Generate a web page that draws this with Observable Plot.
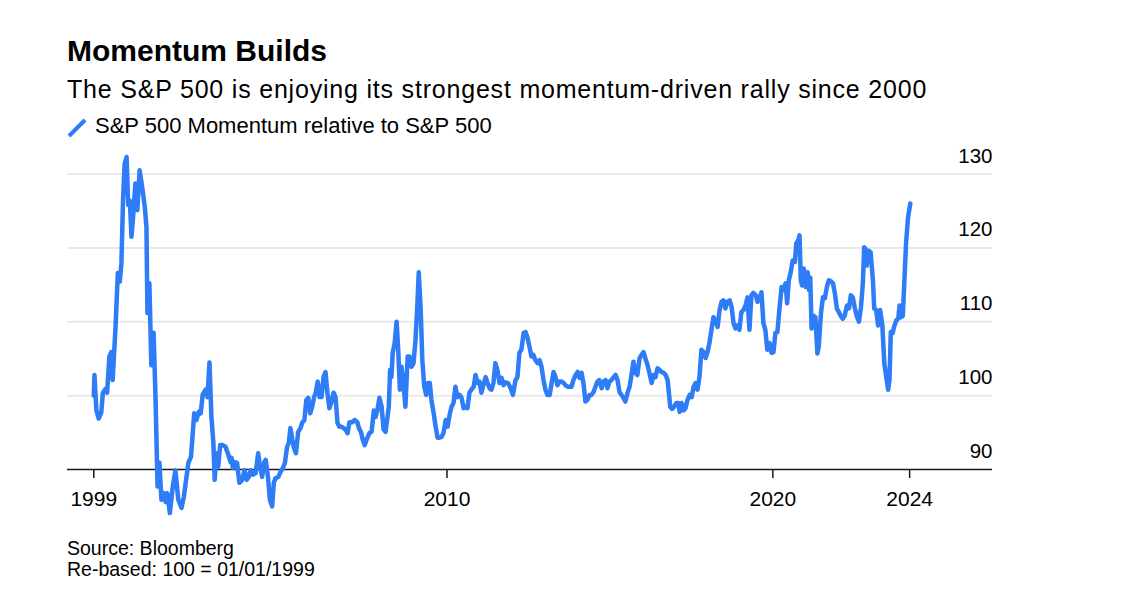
<!DOCTYPE html>
<html>
<head>
<meta charset="utf-8">
<script src="https://cdn.jsdelivr.net/npm/d3@7"></script>
<script src="https://cdn.jsdelivr.net/npm/@observablehq/plot@0.6"></script>
<style>
  html, body { margin: 0; padding: 0; background: #fff; }
  body { width: 1148px; height: 608px; position: relative; overflow: hidden;
         font-family: "Liberation Sans", Arial, Helvetica, sans-serif; color: #000; }
  .t { position: absolute; left: 67px; white-space: nowrap; }
  #title { top: 36px; font-size: 30px; line-height: 30px; font-weight: bold; }
  #subtitle { top: 77px; font-size: 25px; line-height: 25px; letter-spacing: 0.8px; }
  #legend { top: 115px; font-size: 22px; line-height: 22px; }
  #legend svg { position: absolute; left: 0; top: 2px; }
  #legend span { margin-left: 28px; }
  #chart { position: absolute; left: 0; top: 140px; }
  #footer { top: 538px; font-size: 19.5px; line-height: 20.5px; }
</style>
</head>
<body>
<div class="t" id="title">Momentum Builds</div>
<div class="t" id="subtitle">The S&amp;P 500 is enjoying its strongest momentum-driven rally since 2000</div>
<div class="t" id="legend"><svg width="22" height="22"><line x1="2" y1="19" x2="18" y2="3" stroke="#2e7cf6" stroke-width="4" stroke-linecap="butt"/></svg><span>S&amp;P 500 Momentum relative to S&amp;P 500</span></div>
<div id="chart"></div>
<div class="t" id="footer">Source: Bloomberg<br>Re-based: 100 = 01/01/1999</div>
<script>
// Decimal years of each reading
const years = [
1999.00,1999.02,1999.08,1999.15,1999.23,1999.28,1999.36,1999.41,1999.48,1999.54,1999.58,1999.67,1999.74,1999.80,1999.85,1999.90,1999.95,
2000.01,2000.06,2000.11,2000.16,2000.21,2000.28,2000.34,2000.41,2000.49,2000.57,2000.62,2000.65,2000.71,2000.77,2000.84,2000.90,2000.96,
2001.02,2001.08,2001.15,2001.21,2001.26,2001.34,2001.43,2001.51,2001.60,2001.70,2001.77,2001.84,2001.91,2001.99,
2002.03,2002.09,2002.16,2002.23,2002.29,2002.35,2002.44,2002.50,2002.56,2002.62,2002.68,2002.72,2002.78,2002.83,2002.89,2002.97,
2003.05,2003.14,2003.21,2003.24,2003.28,2003.34,2003.41,2003.48,2003.57,2003.64,2003.71,2003.77,2003.83,2003.89,2003.98,
2004.06,2004.10,2004.18,2004.24,2004.29,2004.36,2004.42,2004.49,2004.54,2004.59,2004.68,2004.75,2004.82,2004.88,2004.95,
2005.00,2005.05,2005.11,2005.16,2005.22,2005.29,2005.36,2005.41,2005.48,2005.54,2005.60,2005.66,2005.72,2005.78,2005.83,2005.89,2005.95,
2006.01,2006.07,2006.13,2006.19,2006.25,2006.32,2006.38,2006.44,2006.50,2006.56,2006.62,2006.69,2006.75,2006.81,2006.87,2006.95,
2007.03,2007.11,2007.16,2007.22,2007.28,2007.34,2007.41,2007.49,2007.55,2007.62,2007.67,2007.73,2007.79,2007.86,2007.92,2007.98,
2008.04,2008.08,2008.12,2008.16,2008.20,2008.26,2008.32,2008.37,2008.42,2008.47,2008.53,2008.59,2008.66,2008.72,2008.78,2008.84,2008.90,2008.95,
2009.00,2009.06,2009.11,2009.17,2009.23,2009.29,2009.34,2009.39,2009.46,2009.52,2009.58,2009.64,2009.70,2009.76,2009.83,2009.89,2009.95,
2010.01,2010.07,2010.13,2010.19,2010.26,2010.32,2010.38,2010.44,2010.50,2010.56,2010.62,2010.69,2010.75,2010.81,2010.87,2010.93,2010.99,
2011.06,2011.12,2011.18,2011.24,2011.30,2011.36,2011.42,2011.49,2011.55,2011.61,2011.67,2011.75,2011.83,2011.90,2011.98,
2012.04,2012.10,2012.16,2012.23,2012.29,2012.35,2012.41,2012.47,2012.53,2012.59,2012.66,2012.72,2012.78,2012.84,2012.90,2012.96,
2013.03,2013.09,2013.15,2013.21,2013.27,2013.33,2013.40,2013.46,2013.52,2013.58,2013.64,2013.70,2013.76,2013.83,2013.89,2013.95,
2014.01,2014.07,2014.13,2014.19,2014.26,2014.32,2014.38,2014.44,2014.50,2014.56,2014.63,2014.69,2014.75,2014.81,2014.87,2014.93,
2015.00,2015.06,2015.12,2015.18,2015.24,2015.30,2015.36,2015.43,2015.49,2015.55,2015.61,2015.67,2015.73,2015.80,2015.86,2015.92,2015.98,
2016.04,2016.10,2016.17,2016.23,2016.29,2016.35,2016.41,2016.47,2016.53,2016.60,2016.66,2016.70,2016.74,2016.80,2016.86,2016.93,2016.99,
2017.03,2017.09,2017.15,2017.21,2017.27,2017.34,2017.40,2017.46,2017.52,2017.58,2017.64,2017.70,2017.77,2017.83,2017.89,2017.95,
2018.01,2018.07,2018.13,2018.20,2018.26,2018.32,2018.38,2018.44,2018.50,2018.57,2018.63,2018.69,2018.75,2018.81,2018.87,2018.93,
2019.00,2019.06,2019.12,2019.18,2019.24,2019.30,2019.37,2019.43,2019.49,2019.55,2019.61,2019.67,2019.73,2019.80,2019.86,2019.92,2019.98,
2020.04,2020.10,2020.17,2020.23,2020.29,2020.34,2020.39,2020.45,2020.51,2020.58,2020.62,2020.68,2020.72,2020.76,2020.80,2020.85,2020.91,2020.97,
2021.01,2021.05,2021.09,2021.15,2021.21,2021.27,2021.31,2021.38,2021.44,2021.50,2021.56,2021.62,2021.68,2021.75,2021.81,2021.87,2021.93,2021.99,
2022.05,2022.11,2022.18,2022.24,2022.30,2022.36,2022.42,2022.48,2022.55,2022.61,2022.67,2022.71,2022.75,2022.79,2022.85,2022.91,2022.98,
2023.02,2023.08,2023.14,2023.20,2023.27,2023.33,2023.39,2023.45,2023.49,2023.53,2023.59,2023.63,2023.70,2023.76,2023.80,2023.84,2023.90,2023.94,
2024.00,2024.06,2024.13
];
// S&P 500 Momentum relative to S&P 500 (100 = 01/01/1999)
const momentum = [
100.0,102.8,98.0,96.9,97.7,100.4,100.9,100.4,105.3,105.9,102.1,109.3,116.6,115.4,117.9,126.4,131.4,
132.3,125.8,126.4,121.5,124.2,128.7,125.1,130.5,128.2,125.5,122.8,111.2,115.2,104.1,108.5,99.4,87.7,
90.9,85.9,86.8,85.6,86.8,84.1,87.7,89.9,85.9,84.8,86.3,88.6,90.9,91.7,
94.0,97.6,96.7,97.8,97.6,100.1,100.8,99.8,104.5,97.1,93.6,88.6,92.2,90.4,93.3,93.3,
93.1,92.0,91.0,91.6,90.2,91.0,90.9,88.2,88.6,89.9,88.6,89.0,89.9,89.3,89.5,
92.2,90.9,89.0,90.9,91.3,89.0,85.9,85.0,88.2,88.8,89.0,89.7,90.2,90.9,93.1,
93.6,95.6,94.0,92.9,92.2,95.1,95.6,96.3,96.7,99.4,99.7,97.6,98.5,99.8,100.4,101.9,99.8,
99.8,102.5,103.2,100.4,98.3,99.2,100.4,99.8,96.3,95.8,95.8,95.6,95.4,94.9,96.4,96.4,
96.7,96.4,95.6,95.1,94.0,93.3,94.2,95.0,95.1,98.0,97.1,98.0,99.7,98.5,95.4,95.1,
97.1,98.5,103.5,102.5,105.8,107.1,110.0,106.2,100.8,103.9,101.7,98.5,105.3,105.3,103.9,104.4,107.5,111.6,
116.7,111.6,104.8,101.2,100.1,101.7,101.7,99.4,97.6,95.8,94.3,94.3,94.4,94.9,96.7,95.8,97.4,
98.5,99.0,101.2,99.8,100.1,99.7,98.3,98.5,98.3,100.4,100.8,101.2,102.8,101.7,101.9,100.4,101.4,
102.5,101.7,101.0,100.8,101.7,104.4,103.5,101.7,102.4,101.4,101.8,101.7,101.0,100.1,102.1,
102.5,105.8,106.2,108.5,108.6,107.8,106.6,105.3,105.5,104.8,104.4,104.8,103.9,102.1,100.8,100.1,
100.1,101.7,103.2,102.5,101.4,101.9,101.9,101.7,101.4,101.2,101.2,101.2,102.1,102.8,103.2,102.4,
103.1,101.7,99.2,99.4,100.1,100.1,100.5,101.2,101.9,102.1,101.0,101.9,102.1,101.0,101.9,102.1,
102.5,102.8,102.1,100.5,100.1,99.7,99.2,100.4,101.2,102.8,104.6,103.1,102.8,105.1,105.5,105.9,105.0,
104.2,103.1,101.7,102.8,102.5,103.7,103.5,103.2,103.1,102.8,102.1,100.4,98.5,98.2,98.5,99.0,99.0,
97.8,99.0,98.0,98.3,99.4,100.1,99.8,101.2,101.7,100.8,102.5,106.2,105.9,105.1,105.9,107.2,
108.9,110.6,110.2,109.3,111.6,112.7,112.9,111.8,112.7,112.9,112.0,109.8,109.1,109.5,108.9,111.3,
111.6,112.2,113.3,108.9,113.6,113.9,113.6,112.7,113.2,114.0,109.8,108.9,106.2,107.1,105.8,105.9,108.5,
108.6,111.6,114.7,114.3,115.2,112.5,115.6,116.7,118.3,118.1,120.6,121.0,121.7,115.6,114.9,117.2,114.7,116.7,
114.3,116.0,109.1,110.8,110.6,105.7,106.6,111.2,113.3,113.2,114.7,115.6,115.5,115.2,113.8,111.8,111.3,110.8,
110.4,110.8,112.2,111.8,113.6,113.3,111.9,110.8,110.0,111.9,115.2,120.1,119.9,117.6,119.6,119.4,115.6,
111.8,111.6,109.5,111.6,109.5,104.4,102.5,100.8,102.1,108.6,108.5,109.3,110.2,110.4,112.2,110.6,110.8,114.7,
120.6,124.1,126.0
];
const yTicks = [90, 100, 110, 120, 130];
const gridTicks = [100, 110, 120, 130];
const xTickYears = [1999.0, 2009.87, 2019.9, 2024.11];
const xTickLabels = ["1999", "2010", "2020", "2024"];
const xDomainYears = [1998.19, 2026.66];

const toDate = y => {
  const yr = Math.floor(y);
  const start = Date.UTC(yr, 0, 1), end = Date.UTC(yr + 1, 0, 1);
  return new Date(start + (y - yr) * (end - start));
};
const data = years.map((y, i) => ({date: toDate(y), value: momentum[i]}));
const xTicks = xTickYears.map(toDate);
const labelFor = d => {
  const i = xTicks.findIndex(t => Math.abs(t - d) < 864e5);
  return i >= 0 ? xTickLabels[i] : "";
};

const chart = Plot.plot({
  width: 1148,
  height: 389,
  marginLeft: 67,
  marginRight: 156,
  marginTop: 33.5,
  marginBottom: 60,
  style: {fontFamily: '"Liberation Sans", Arial, Helvetica, sans-serif', fontSize: "20px", color: "#000", background: "transparent", overflow: "visible"},
  x: {type: "utc", domain: xDomainYears.map(toDate)},
  y: {domain: [90, 130]},
  marks: [
    Plot.gridY(gridTicks, {stroke: "#e9e9e9", strokeOpacity: 1, strokeWidth: 2}),
    Plot.axisY(yTicks, {anchor: "right", tickSize: 0, tickPadding: 0, textAnchor: "end", dy: -18, label: null, fontSize: 20.5, fill: "#000"}),
    Plot.axisX(xTicks, {anchor: "bottom", tickSize: 9, tickPadding: 13, tickFormat: labelFor, label: null, fontSize: 21, stroke: "#1a1a1a", strokeWidth: 1.5, fill: "#000"}),
    Plot.ruleY([90], {stroke: "#1a1a1a", strokeWidth: 1.5}),
    Plot.line(data, {x: "date", y: "value", stroke: "#2e7cf6", strokeWidth: 4.5, strokeLinejoin: "round", strokeLinecap: "round"})
  ]
});
document.getElementById("chart").appendChild(chart);
</script>
</body>
</html>
